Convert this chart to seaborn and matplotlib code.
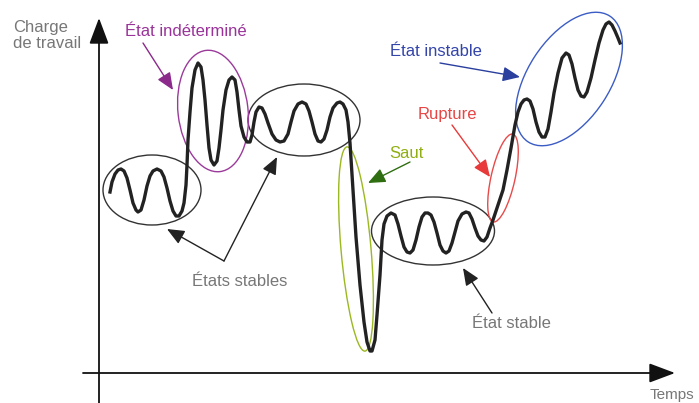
import numpy as np
import pandas as pd
import matplotlib
matplotlib.use('Agg')
import matplotlib.pyplot as plt
from matplotlib.patches import Ellipse
import seaborn as sns

# curve (pixel coords, y pointing down)
curve_x = [110, 112, 115, 118, 121, 124, 127, 130, 133, 136, 138, 141, 144, 147, 150, 153, 157, 161, 164,
           167, 170, 173, 176, 179, 182, 184, 186, 187, 188, 190, 192, 195, 198, 201, 203, 205, 207, 209,
           211, 214, 217, 219, 221, 223, 226, 229, 232, 235, 237, 239, 241, 244, 247, 250, 252, 254, 256,
           259, 262, 265, 268, 272, 276, 280, 284, 288, 291, 294, 298, 302, 306, 309, 312, 315, 318, 321,
           324, 327, 330, 333, 337, 340, 343, 346, 348, 350, 353, 356, 360, 364, 367, 370, 372, 375, 377,
           380, 382, 384, 387, 391, 395, 398, 401, 404, 407, 410, 413, 416, 419, 422, 425, 428, 431, 434,
           437, 440, 443, 446, 449, 452, 455, 458, 462, 466, 469, 472, 475, 478, 481, 484, 487, 490, 493,
           498, 503, 507, 511, 515, 518, 521, 524, 527, 530, 533, 536, 539, 542, 545, 548, 551, 554, 558,
           562, 566, 569, 572, 575, 578, 581, 584, 587, 591, 595, 599, 603, 606, 609, 612, 615, 618, 620]
curve_y = [192, 182, 174, 170, 169, 171, 178, 190, 203, 210, 212, 210, 200, 186, 176, 171, 169, 171, 177,
           188, 201, 211, 216, 216, 211, 203, 185, 165, 140, 112, 88, 70, 63, 67, 80, 100, 125, 148,
           160, 165, 161, 148, 130, 110, 90, 80, 77, 80, 92, 110, 126, 137, 142, 142, 135, 122, 112,
           107, 108, 114, 123, 134, 140, 142, 141, 134, 122, 111, 104, 102, 104, 111, 122, 134, 141, 142,
           139, 130, 117, 108, 103, 102, 104, 110, 122, 143, 190, 237, 285, 322, 342, 351, 351, 340, 315,
           275, 240, 224, 216, 213, 215, 224, 236, 247, 252, 253, 250, 240, 227, 217, 213, 213, 215, 222,
           233, 245, 251, 253, 251, 243, 232, 221, 214, 212, 213, 219, 228, 236, 240, 241, 237, 228, 220,
           205, 190, 170, 148, 125, 112, 104, 100, 99, 101, 109, 122, 132, 137, 137, 129, 112, 93, 73,
           58, 53, 55, 64, 78, 90, 96, 97, 92, 78, 60, 43, 30, 24, 22, 25, 31, 38, 43]

# highlighted zones: centre x, centre y, length, width, angle, colour
zone_cx = [152, 304, 433, 213, 356, 503, 569]
zone_cy = [190, 120, 231, 111, 249, 178, 79]
zone_w = [98, 112, 123, 122, 205, 90, 150]
zone_h = [70, 72, 68, 70, 30, 24, 82]
zone_ang = [0, 0, 0, 83.5, 85, 102.6, -57]
zone_col = ['#333333', '#333333', '#333333', '#9b3a9b', '#9ab820', '#e84a4a', '#3b5cc4']

# labels
lab_text = ['État indéterminé', 'État instable', 'Rupture', 'Saut', 'États stables', 'État stable']
lab_x = [125, 390, 418, 389, 192, 472]
lab_y = [31, 52, 114, 153, 282, 323]
lab_col = ['#993399', '#3344aa', '#e84545', '#8fae10', '#777777', '#777777']

df = pd.DataFrame({'x': curve_x, 'y': curve_y})

fig = plt.figure(figsize=(6.99, 4.03), dpi=100)
ax = fig.add_axes([0, 0, 1, 1])
ax.set_xlim(0, 699)
ax.set_ylim(403, 0)
ax.axis('off')

sns.lineplot(data=df, x='x', y='y', sort=False, estimator=None, color='#222222', lw=2.4, ax=ax)

for cx, cy, w, h, a, c in zip(zone_cx, zone_cy, zone_w, zone_h, zone_ang, zone_col):
    ax.add_patch(Ellipse((cx, cy), w, h, angle=a, fill=False, ec=c, lw=1.0))

plt.rcParams['font.family'] = ['Liberation Sans', 'DejaVu Sans']
for t, x, y, c in zip(lab_text, lab_x, lab_y, lab_col):
    ax.text(x, y, t, color=c, fontsize=12, va='center', ha='left')

ax.text(13, 20, 'Charge\nde travail', color='#777777', fontsize=12, va='top', ha='left', linespacing=1.1)
ax.text(650, 402, 'Temps', color='#777777', fontsize=11, va='bottom', ha='left')

# axes arrows
big = dict(arrowstyle='-|>,head_length=0.8,head_width=0.3', color='#111111', lw=1.3,
           mutation_scale=20, shrinkA=0, shrinkB=0)
ax.annotate('', xy=(99, 18), xytext=(99, 403), arrowprops=big)
ax.annotate('', xy=(675, 373), xytext=(83, 373), arrowprops=big)

def arrow(p0, p1, c):
    ax.annotate('', xy=p1, xytext=p0,
                arrowprops=dict(arrowstyle='-|>,head_length=0.7,head_width=0.3', color=c, lw=1.0,
                                mutation_scale=15, shrinkA=0, shrinkB=0))

arrow((143, 43), (173, 90), '#8b2a8b')
arrow((440, 63), (520, 77), '#2a3f9e')
arrow((452, 125), (490, 177), '#e83a3a')
arrow((410, 162), (368, 183), '#2f6e10')
arrow((224, 261), (167, 229), '#222222')
arrow((224, 261), (277, 157), '#222222')
arrow((492, 313), (463, 268), '#222222')

fig.savefig('out.png', dpi=100)
